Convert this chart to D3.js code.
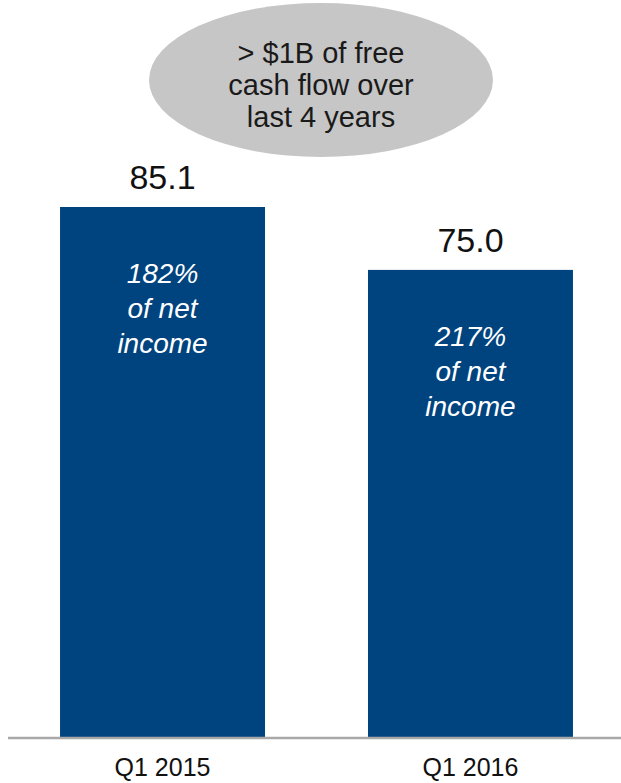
<!DOCTYPE html>
<html>
<head>
<meta charset="utf-8">
<script src="https://cdn.jsdelivr.net/npm/d3@7"></script>
<style>
  html, body { margin: 0; padding: 0; background: #fff; }
  svg { display: block; font-family: "Liberation Sans", Arial, sans-serif; }
</style>
</head>
<body>
<div id="chart"></div>
<script>
const categories = ["Q1 2015", "Q1 2016"];
const values = [85.1, 75.0];
const valueLabels = ["85.1", "75.0"];
const innerLabels = [["182%", "of net", "income"], ["217%", "of net", "income"]];
const calloutLines = ["> $1B of free", "cash flow over", "last 4 years"];

const width = 621, height = 783;
const baseY = 737;

const svg = d3.select("#chart").append("svg")
    .attr("width", width)
    .attr("height", height);

const x = d3.scaleBand()
    .domain(categories)
    .range([12, 621])
    .paddingInner(0.3344)
    .paddingOuter(0.156);

const y = d3.scaleLinear()
    .domain([0, 85.1])
    .range([baseY, 207]);

// callout bubble
const bubble = svg.append("g").attr("transform", "translate(321,80)");
bubble.append("ellipse")
    .attr("rx", 172)
    .attr("ry", 77)
    .attr("fill", "#c6c6c6");
bubble.selectAll("text")
    .data(calloutLines)
    .join("text")
    .attr("text-anchor", "middle")
    .attr("y", (d, i) => -17 + i * 32)
    .attr("font-size", 29)
    .attr("fill", "#1a1a1a")
    .text(d => d);

// bars
svg.append("g")
    .selectAll("rect")
    .data(values)
    .join("rect")
    .attr("x", (d, i) => x(categories[i]))
    .attr("y", d => y(d))
    .attr("width", x.bandwidth())
    .attr("height", d => y(0) - y(d))
    .attr("fill", "#00447f");

// value labels
svg.append("g")
    .selectAll("text")
    .data(values)
    .join("text")
    .attr("x", (d, i) => x(categories[i]) + x.bandwidth() / 2)
    .attr("y", d => y(d) - 18)
    .attr("text-anchor", "middle")
    .attr("font-size", 34)
    .attr("fill", "#111")
    .text((d, i) => valueLabels[i]);

// labels inside bars
values.forEach((v, i) => {
    svg.append("g")
        .selectAll("text")
        .data(innerLabels[i])
        .join("text")
        .attr("x", x(categories[i]) + x.bandwidth() / 2)
        .attr("y", (d, j) => y(v) + 76 + j * 35)
        .attr("text-anchor", "middle")
        .attr("font-size", 28)
        .attr("font-style", "italic")
        .attr("fill", "#fff")
        .text(d => d);
});

// baseline
svg.append("line")
    .attr("x1", 8)
    .attr("x2", width)
    .attr("y1", baseY + 1)
    .attr("y2", baseY + 1)
    .attr("stroke", "#a8a8a8")
    .attr("stroke-width", 2.5);

// category axis
const axis = svg.append("g")
    .attr("transform", `translate(0,${baseY + 1})`)
    .call(d3.axisBottom(x).tickSize(0).tickPadding(0));
axis.select(".domain").remove();
axis.selectAll("text")
    .attr("font-size", 25)
    .attr("font-family", "'Liberation Sans', Arial, sans-serif")
    .attr("fill", "#111")
    .attr("dy", null)
    .attr("y", 38);
</script>
</body>
</html>
